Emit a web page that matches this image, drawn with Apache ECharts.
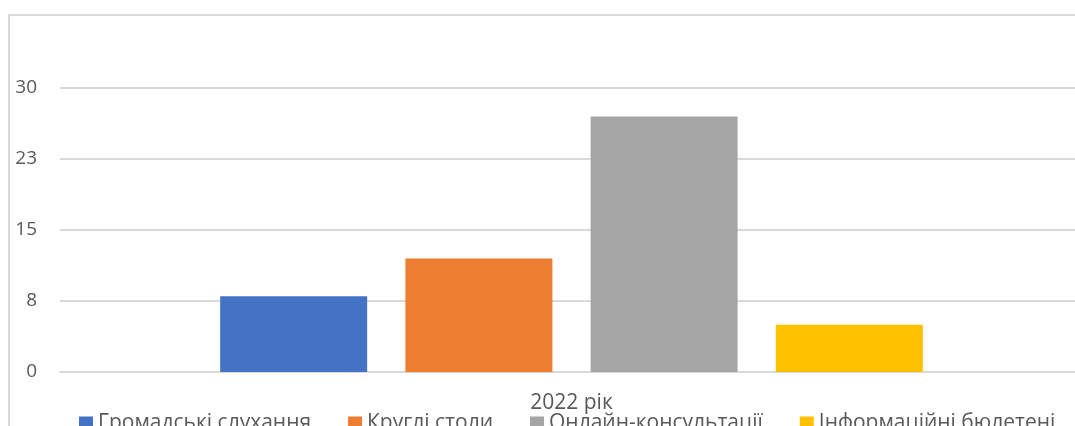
<!DOCTYPE html>
<html>
<head>
<meta charset="utf-8">
<script src="https://cdn.jsdelivr.net/npm/echarts@6/dist/echarts.min.js"></script>
<style>
  html, body { margin: 0; padding: 0; background: #fff; }
  #main { width: 1075px; height: 426px; }
</style>
</head>
<body>
<div id="main"></div>
<script>
// дані
const categories = ['2022 рік'];
const seriesNames = ['Громадські слухання', 'Круглі столи', 'Онлайн-консультації', 'Інформаційні бюлетені'];
const seriesValues = [8, 12, 27, 5];
const seriesColors = ['#4472c4', '#ed7d31', '#a5a5a5', '#ffc000'];
const yTicks = [0, 7.5, 15, 22.5, 30];

const myChart = echarts.init(document.getElementById('main'));
const fontFam = '"Open Sans", "Liberation Sans", sans-serif';

let series = [];
for (let i = 0; i < seriesNames.length; i++) {
  series.push({
    name: seriesNames[i],
    type: 'bar',
    barWidth: 147,
    barGap: '26%',
    itemStyle: { color: seriesColors[i] },
    data: [seriesValues[i]]
  });
}

let option = {
  animation: false,
  textStyle: { fontFamily: fontFam },
  grid: {
    top: 88,
    bottom: 54,
    left: 60,
    right: -8,
    outerBoundsMode: 'none'
  },
  legend: {
    left: 74,
    top: 408,
    itemWidth: 14,
    itemHeight: 14,
    itemGap: 37,
    icon: 'rect',
    textStyle: { fontSize: 21, color: '#595959', fontFamily: fontFam }
  },
  xAxis: {
    type: 'category',
    data: categories,
    axisLine: { lineStyle: { color: '#d9d9d9', width: 2 } },
    axisTick: { show: false },
    axisLabel: { fontSize: 21, color: '#595959', margin: 21 }
  },
  yAxis: {
    type: 'value',
    min: yTicks[0],
    max: yTicks[yTicks.length - 1],
    interval: 7.5,
    axisLine: { show: false },
    axisTick: { show: false },
    axisLabel: {
      fontSize: 19,
      color: '#595959',
      margin: 23,
      formatter: function (v) { return Math.round(v); }
    },
    splitLine: { lineStyle: { color: '#d9d9d9', width: 2 } }
  },
  graphic: {
    elements: [{
      type: 'rect',
      shape: { x: 9, y: 15, width: 1200, height: 600 },
      style: { fill: 'none', stroke: '#d9d9d9', lineWidth: 2 },
      silent: true
    }]
  },
  series: series
};
myChart.setOption(option);
</script>
</body>
</html>
